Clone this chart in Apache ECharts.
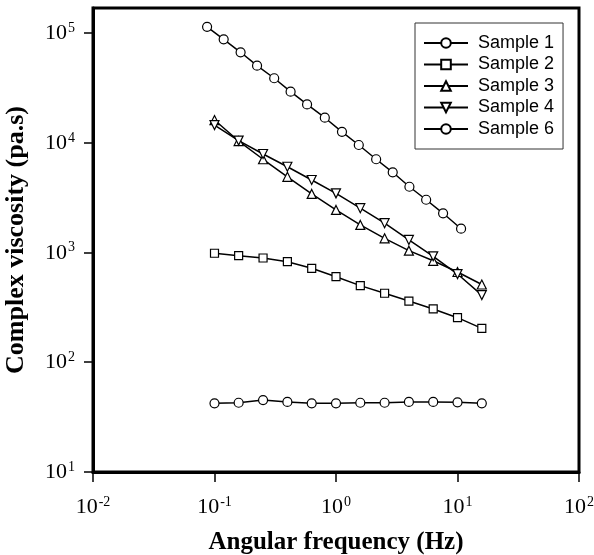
<!DOCTYPE html>
<html><head><meta charset="utf-8">
<script src="https://cdn.jsdelivr.net/npm/echarts@6/dist/echarts.min.js"></script>
<style>html,body{margin:0;padding:0;background:#fff}#c{width:594px;height:555px}</style>
</head><body><div id="c"></div>
<script>
// ---- data ----
const freqS1 = [0.0869, 0.119, 0.164, 0.224, 0.310, 0.423, 0.578, 0.809, 1.12, 1.54, 2.14, 2.93, 4.02, 5.52, 7.61, 10.7];
const sample1 = [113000, 86900, 66200, 50000, 38400, 29000, 22200, 16800, 12500, 9480, 7030, 5350, 3950, 3010, 2265, 1640];
const freqGrid = [0.1, 0.158, 0.251, 0.398, 0.631, 1, 1.585, 2.512, 3.981, 6.31, 10, 15.85];
const sample2 = [980, 931, 887, 821, 715, 600, 497, 424, 360, 305, 254, 203];
const sample3 = [16000, 10300, 7030, 4870, 3400, 2430, 1775, 1340, 1035, 837, 662, 509];
const sample4 = [14400, 10400, 7850, 6010, 4550, 3440, 2520, 1840, 1295, 920, 634, 408];
const sample6 = [42.2, 42.7, 45.2, 43.4, 42.2, 42.2, 42.7, 42.7, 43.4, 43.4, 43.1, 42.2];
const seriesNames = ['Sample 1', 'Sample 2', 'Sample 3', 'Sample 4', 'Sample 6'];
const xTicks = [0.01, 0.1, 1, 10, 100];
const yTicks = [10, 100, 1000, 10000, 100000];
const xMin = 0.01, xMax = 100;
const yMin = 10, yMax = 167500;

function pairs(xs, ys) { return xs.map((x, i) => [x, ys[i]]); }
function powLabel(v) {
  const e = Math.round(Math.log10(v));
  return '{b|10}{s|' + e + '}';
}
const rich = {
  b: { fontFamily: 'Liberation Serif', fontSize: 22, color: '#000', verticalAlign: 'bottom' },
  s: { fontFamily: 'Liberation Serif', fontSize: 14, color: '#000', verticalAlign: 'bottom', padding: [0, 0, 9, 1] }
};
const titleFont = { fontFamily: 'Liberation Serif', fontWeight: 'bold', fontSize: 25, color: '#000' };

function mkSeries(name, xs, ys, symbol, size, rotate) {
  return {
    type: 'line', name: name, data: pairs(xs, ys),
    symbol: symbol, symbolSize: size, symbolRotate: rotate || 0, showAllSymbol: true,
    lineStyle: { color: '#000', width: 1.5 },
    itemStyle: { color: '#fff', borderColor: '#000', borderWidth: 1.2 },
    emphasis: { disabled: true }, silent: true
  };
}

const chart = echarts.init(document.getElementById('c'), null, { renderer: 'canvas' });
chart.setOption({
  animation: false,
  backgroundColor: '#fff',
  grid: { left: 93, right: 15, top: 8, bottom: 83, show: true, borderColor: '#000', borderWidth: 3,
          containLabel: false, outerBoundsMode: 'none' },
  legend: {
    orient: 'vertical', left: 415, top: 23, data: seriesNames,
    itemWidth: 44, itemHeight: 12, itemGap: 1.5,
    padding: [10, 9, 10, 8], borderColor: '#333', borderWidth: 1,
    textStyle: { fontFamily: 'Liberation Sans', fontSize: 18, color: '#000', lineHeight: 20, padding: [0, 0, 0, 5] }
  },
  xAxis: {
    type: 'log', logBase: 10, min: xMin, max: xMax,
    name: 'Angular frequency (Hz)', nameLocation: 'middle', nameGap: 58, nameTextStyle: titleFont,
    axisLine: { lineStyle: { color: '#000', width: 3 } },
    axisTick: { show: true, inside: false, length: 10, customValues: xTicks, lineStyle: { color: '#000', width: 1.5 } },
    axisLabel: { customValues: xTicks, margin: 23, formatter: powLabel, rich: rich },
    splitLine: { show: false }, minorTick: { show: false }
  },
  yAxis: {
    type: 'log', logBase: 10, min: yMin, max: yMax,
    name: 'Complex viscosity (pa.s)', nameLocation: 'middle', nameGap: 64, nameTextStyle: Object.assign({}, titleFont, { fontSize: 26 }),
    axisLine: { lineStyle: { color: '#000', width: 3 } },
    axisTick: { show: true, inside: false, length: 9, customValues: yTicks, lineStyle: { color: '#000', width: 1.5 } },
    axisLabel: { customValues: yTicks, margin: 18, formatter: powLabel, rich: rich },
    splitLine: { show: false }, minorTick: { show: false }
  },
  series: [
    mkSeries(seriesNames[0], freqS1, sample1, 'circle', 9),
    mkSeries(seriesNames[1], freqGrid, sample2, 'rect', 8),
    mkSeries(seriesNames[2], freqGrid, sample3, 'triangle', 9),
    mkSeries(seriesNames[3], freqGrid, sample4, 'triangle', 9, 180),
    mkSeries(seriesNames[4], freqGrid, sample6, 'circle', 9)
  ]
});
</script></body></html>
